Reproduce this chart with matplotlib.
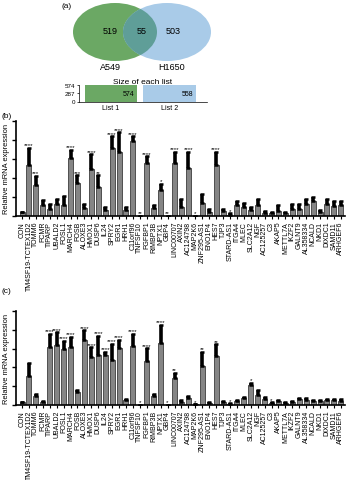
import numpy as np
import matplotlib
matplotlib.use("Agg")
import matplotlib.pyplot as plt
from matplotlib.patches import Ellipse

plt.rcParams['font.family'] = ['Liberation Sans', 'DejaVu Sans']

# ---- data ----
venn_labels = ["A549", "H1650"]
venn_counts = [519, 55, 503]
list_names = ["List 1", "List 2"]
list_sizes = [574, 558]
list_ticks = [0, 287, 574]

genes = ["CON", "TM4SF19-TCTEX1D2", "TOMM6", "FCMR", "TIPARP", "UBALD2", "FOSL1",
         "MARCH4", "FOSB", "ALOXE3", "HMOX1", "DUSP6", "IL24", "SPRY2", "EGR1",
         "HRH1", "C11orf96", "TNFSF10", "FGFBP1", "RIMBP3B", "NPTX1", "GBP4",
         "LINC00707", "AXIN2", "AC124798", "MAP2K6", "ZNF295-AS1", "ENO1P4",
         "HES7", "TJP3", "STARD-AS1", "ITGA4", "MLEC", "SLC2A12", "NGF",
         "AC125257", "C3", "AKAP5", "METTL7A", "IKZF2", "GALNT9", "AL358334",
         "NCALD", "NKD1", "DIXDC1", "SAMD11", "ARHGEF6"]

a549_mean = [0.20, 2.70, 1.65, 0.56, 0.35, 0.63, 0.60, 3.05, 1.72, 0.44, 2.50, 1.54,
             0.32, 3.60, 3.35, 0.32, 3.93, 0.00, 2.80, 0.40, 1.39, 0.00, 2.80, 0.50,
             2.53, 0.00, 0.70, 0.20, 2.67, 0.26, 0.07, 0.58, 0.47, 0.33, 0.60, 0.18,
             0.14, 0.26, 0.16, 0.35, 0.35, 0.65, 0.77, 0.20, 0.63, 0.53, 0.56]
a549_top = [0.20, 3.58, 2.10, 0.86, 0.63, 0.90, 1.05, 3.50, 2.14, 0.63, 3.25, 2.14,
            0.47, 4.20, 4.40, 0.47, 4.20, 0.00, 3.15, 0.60, 1.70, 0.00, 3.37, 0.88,
            3.37, 0.00, 1.18, 0.37, 3.37, 0.39, 0.14, 0.80, 0.70, 0.47, 0.90, 0.25,
            0.20, 0.58, 0.23, 0.61, 0.61, 0.90, 1.00, 0.30, 0.88, 0.77, 0.80]
a549_sig = ["", "****", "***", "", "", "", "", "****", "***", "", "****", "**",
            "", "****", "****", "", "****", "**", "****", "", "*", "**", "****", "",
            "****", "*", "", "", "****", "", "*", "", "", "", "", "",
            "", "", "", "", "", "", "", "", "", "", ""]

h1650_mean = [0.18, 1.56, 0.47, 0.18, 3.07, 3.18, 2.98, 3.07, 0.68, 3.46, 2.53, 2.67,
              2.67, 2.40, 3.02, 0.25, 3.14, 0.00, 2.35, 0.47, 3.28, 0.00, 1.42, 0.18,
              0.37, 0.03, 2.09, 0.12, 2.61, 0.14, 0.07, 0.23, 0.35, 1.04, 0.53, 0.30,
              0.10, 0.19, 0.12, 0.18, 0.32, 0.28, 0.23, 0.19, 0.26, 0.25, 0.23]
h1650_top = [0.18, 2.23, 0.56, 0.23, 3.80, 3.86, 3.40, 3.63, 0.82, 3.98, 3.07, 3.67,
             2.82, 3.25, 3.46, 0.30, 3.80, 0.00, 3.02, 0.60, 4.25, 0.00, 1.72, 0.25,
             0.47, 0.03, 2.84, 0.18, 3.23, 0.19, 0.10, 0.28, 0.44, 1.18, 0.79, 0.40,
             0.14, 0.25, 0.16, 0.23, 0.39, 0.35, 0.28, 0.25, 0.33, 0.32, 0.30]
h1650_sig = ["", "", "", "", "****", "****", "****", "****", "", "****", "****", "****",
             "****", "****", "****", "", "****", "*", "****", "", "****", "*", "**", "",
             "", "*", "**", "", "**", "", "*", "", "", "*", "", "",
             "*", "", "", "", "", "", "", "", "", "", ""]

W, H = 350, 481
fig = plt.figure(figsize=(W / 100, H / 100), dpi=100)

def fx(px):
    return px / W

def fy(py):
    return 1 - py / H

# ---- panel (a): Venn ----
ax0 = fig.add_axes([0, 0, 1, 1])
ax0.set_xlim(0, W)
ax0.set_ylim(H, 0)
ax0.axis('off')
green = '#6ba864'
blue = '#a9cbe8'
overlap = '#5f9e98'
e1 = Ellipse((115, 33), 84, 58, facecolor=green, edgecolor='none')
e2 = Ellipse((167, 33), 88, 58, facecolor=blue, edgecolor='none')
ax0.add_patch(e1)
ax0.add_patch(e2)
e3 = Ellipse((115, 33), 84, 58, facecolor=overlap, edgecolor='none')
ax0.add_patch(e3)
e3.set_clip_path(e2)
ax0.text(110, 32, str(venn_counts[0]), ha='center', va='center', fontsize=6.5)
ax0.text(142, 32, str(venn_counts[1]), ha='center', va='center', fontsize=6.5)
ax0.text(173, 32, str(venn_counts[2]), ha='center', va='center', fontsize=6.5)
ax0.text(110, 68, venn_labels[0], ha='center', va='center', fontsize=6.5)
ax0.text(172, 68, venn_labels[1], ha='center', va='center', fontsize=6.5)
ax0.text(62, 6, "(a)", ha='left', va='center', fontsize=6)
ax0.text(2, 116, "(b)", ha='left', va='center', fontsize=6)
ax0.text(2, 292, "(c)", ha='left', va='center', fontsize=6)

# mini bar chart
axm = fig.add_axes([fx(79), fy(102.5), fx(207) - fx(79), fy(86) - fy(102.5)])
axm.bar([0, 1], list_sizes, width=0.89, color=[green, blue])
axm.set_xlim(-0.547, 1.64)
axm.set_ylim(0, 574)
axm.set_yticks(list_ticks)
axm.set_yticklabels([str(t) for t in list_ticks], fontsize=4.5)
axm.set_xticks([0, 1])
axm.set_xticklabels(list_names, fontsize=5)
axm.tick_params(axis='x', length=0, pad=1.5)
axm.tick_params(axis='y', length=1.5, width=0.5, pad=1)
for s in ['top', 'right']:
    axm.spines[s].set_visible(False)
for s in ['left', 'bottom']:
    axm.spines[s].set_linewidth(0.5)
for i, v in enumerate(list_sizes):
    axm.text(i + 0.4, v / 2, str(v), ha='right', va='center', fontsize=5)
axm.set_title("Size of each list", fontsize=6, pad=1.5)

# ---- bar panels ----
def panel(top_px, bot_px, mean, top, sig, title, title_xy):
    ax = fig.add_axes([fx(16), fy(bot_px), fx(345) - fx(16), fy(top_px) - fy(bot_px)])
    x = np.arange(len(genes))
    mean = np.array(mean)
    top = np.array(top)
    ax.bar(x, mean, width=0.72, color='#858585', edgecolor='#222222', linewidth=0.5)
    ax.errorbar(x, mean, yerr=[np.zeros_like(mean), top - mean], fmt='none',
                ecolor='black', elinewidth=2.6, capsize=1.3, capthick=1.8)
    for xi, t, s in zip(x, top, sig):
        if s:
            ax.text(xi, t + 0.03, s, ha='center', va='bottom', fontsize=4.5,
                    linespacing=0.8)
    ax.set_xlim(-0.87, 46.6)
    ax.set_ylim(0, 5)
    ax.set_yticks(np.arange(0, 6))
    ax.set_yticklabels([])
    ax.set_xticks(x)
    ax.set_xticklabels(genes, rotation=90, fontsize=5.0)
    ax.tick_params(axis='x', length=2, width=0.8, pad=1.5)
    ax.tick_params(axis='y', length=3, width=1)
    for s in ['top', 'right']:
        ax.spines[s].set_visible(False)
    for s in ['left', 'bottom']:
        ax.spines[s].set_linewidth(1.2)
    ax.set_ylabel("Relative mRNA expression", fontsize=5.4)
    ax.yaxis.set_label_coords(-0.018, 0.5)
    ax0.text(title_xy[0], title_xy[1], title, ha='center', va='center', fontsize=6.5)
    return ax

panel(122, 217, a549_mean, a549_top, a549_sig, "A549", (172, 125))
panel(312, 406, h1650_mean, h1650_top, h1650_sig, "H1650", (170, 315))

fig.savefig("out.png", dpi=100)
